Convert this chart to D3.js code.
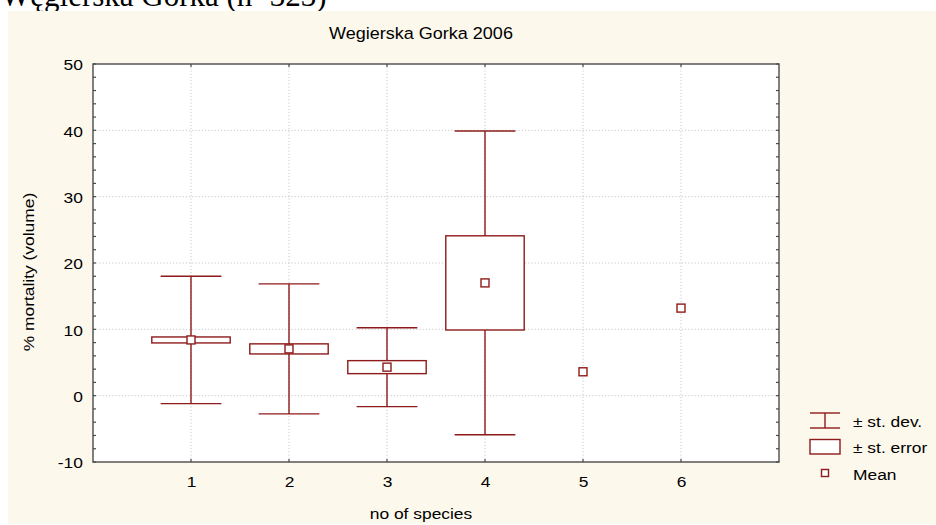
<!DOCTYPE html>
<html>
<head>
<meta charset="utf-8">
<script src="https://cdn.jsdelivr.net/npm/d3@7"></script>
<style>
body { margin:0; background:#ffffff; }
text { font-family: Arial, "Liberation Sans", sans-serif; fill:#000; }
.grid line { stroke:#c8c8c8; stroke-width:1; stroke-dasharray:1.2,2; }
.frame { fill:none; stroke:#4a4a4a; stroke-width:1.4; }
.mark { stroke:#8e1b1b; stroke-width:1.4; fill:#ffffff; }
</style>
</head>
<body>
<svg></svg>
<script>
// values
var species = [1, 2, 3, 4, 5, 6];
var means   = [8.4, 7.05, 4.3, 17.0, 3.6, 13.2];
var stdevs  = [9.6, 9.8, 5.95, 22.9, null, null];
var sterrs  = [0.45, 0.76, 0.98, 7.1, null, null];
var yTicks  = [-10, 0, 10, 20, 30, 40, 50];
var xTicks  = [1, 2, 3, 4, 5, 6];
var legendLabels = ["\u00b1 st. dev.", "\u00b1 st. error", "Mean"];

var stretch = "scale(1.2,1)";
var plain = function(d) { return String(d) };   // hyphen minus, no decimals

var screen = {width:936, height:525};
var plot = {left:93, right:779, top:64, bottom:462};

var svg = d3.select("svg")
	.attr("width", screen.width)
	.attr("height", screen.height);

//----------background-------------
var drawBackground = function()
{
	// page heading above the chart, cut by the top edge as in the source
	svg.append("text")
		.text("W\u0119gierska G\u00f3rka (n=323)")
		.attr("x", 1)
		.attr("y", 6)
		.style("font-family", "'Liberation Serif', 'Times New Roman', serif")
		.style("font-size", "31px")

	svg.append("rect")
		.attr("x", 8)
		.attr("y", 11)
		.attr("width", screen.width - 8)
		.attr("height", 513)
		.attr("fill", "#fdf8ec")

	svg.append("rect")
		.attr("x", plot.left)
		.attr("y", plot.top)
		.attr("width", plot.right - plot.left)
		.attr("height", plot.bottom - plot.top)
		.attr("fill", "#ffffff")
}

//----------axes + grid-------------
var drawAxis = function(xScale, yScale)
{
	var grid = svg.append("g").classed("grid", true)
	grid.selectAll(".gx")
		.data(xTicks)
		.enter()
		.append("line")
		.attr("x1", function(d) { return xScale(d) })
		.attr("x2", function(d) { return xScale(d) })
		.attr("y1", plot.top)
		.attr("y2", plot.bottom)
	grid.selectAll(".gy")
		.data(yTicks.slice(1, -1))
		.enter()
		.append("line")
		.attr("x1", plot.left)
		.attr("x2", plot.right)
		.attr("y1", function(d) { return yScale(d) })
		.attr("y2", function(d) { return yScale(d) })

	var minor = d3.range(-10, 50.1, 2)

	// left axis with labels
	var yAxis = d3.axisLeft(yScale).tickValues(yTicks).tickFormat(plain).tickSize(0).tickPadding(8)
	var gy = svg.append("g")
		.attr("transform", "translate(" + plot.left + ",0)")
		.call(yAxis)
	gy.select(".domain").remove()
	gy.selectAll("text")
		.style("font-size", "14.5px")
		.attr("x", -8.5)
		.attr("dy", "0.4em")
		.attr("transform", stretch)

	// bottom axis with labels
	var xAxis = d3.axisBottom(xScale).tickValues(xTicks).tickFormat(plain).tickSize(0)
	var gx = svg.append("g")
		.attr("transform", "translate(0," + plot.bottom + ")")
		.call(xAxis)
	gx.select(".domain").remove()
	gx.selectAll("text")
		.style("font-size", "14.5px")
		.attr("y", 25)
		.attr("dy", 0)
		.attr("transform", stretch)

	// inward ticks on all four sides
	var ticks = svg.append("g").attr("stroke", "#4a4a4a").attr("stroke-width", 1.2)
	ticks.selectAll(".tl")
		.data(minor)
		.enter()
		.append("line")
		.attr("x1", plot.left)
		.attr("x2", plot.left + 3)
		.attr("y1", function(d) { return yScale(d) })
		.attr("y2", function(d) { return yScale(d) })
	ticks.selectAll(".tr")
		.data(minor)
		.enter()
		.append("line")
		.attr("x1", plot.right)
		.attr("x2", plot.right - 3)
		.attr("y1", function(d) { return yScale(d) })
		.attr("y2", function(d) { return yScale(d) })
	ticks.selectAll(".tb")
		.data(xTicks)
		.enter()
		.append("line")
		.attr("x1", function(d) { return xScale(d) })
		.attr("x2", function(d) { return xScale(d) })
		.attr("y1", plot.bottom)
		.attr("y2", plot.bottom - 3)
	ticks.selectAll(".tt")
		.data(xTicks)
		.enter()
		.append("line")
		.attr("x1", function(d) { return xScale(d) })
		.attr("x2", function(d) { return xScale(d) })
		.attr("y1", plot.top)
		.attr("y2", plot.top + 3)

	svg.append("rect")
		.classed("frame", true)
		.attr("x", plot.left)
		.attr("y", plot.top)
		.attr("width", plot.right - plot.left)
		.attr("height", plot.bottom - plot.top)
}

//----------boxes-------------
var drawPlot = function(xScale, yScale)
{
	var rows = species.map(function(s, i)
	{
		return {x:s, mean:means[i], sd:stdevs[i], se:sterrs[i]}
	})
	var full = rows.filter(function(r) { return r.sd != null })
	var capW = 0.31, boxW = 0.4

	var g = svg.append("g").classed("mark", true)

	g.selectAll(".whisk")
		.data(full)
		.enter()
		.append("line")
		.attr("x1", function(r) { return xScale(r.x) })
		.attr("x2", function(r) { return xScale(r.x) })
		.attr("y1", function(r) { return yScale(r.mean - r.sd) })
		.attr("y2", function(r) { return yScale(r.mean + r.sd) })

	g.selectAll(".capHi")
		.data(full)
		.enter()
		.append("line")
		.attr("x1", function(r) { return xScale(r.x - capW) })
		.attr("x2", function(r) { return xScale(r.x + capW) })
		.attr("y1", function(r) { return yScale(r.mean + r.sd) })
		.attr("y2", function(r) { return yScale(r.mean + r.sd) })

	g.selectAll(".capLo")
		.data(full)
		.enter()
		.append("line")
		.attr("x1", function(r) { return xScale(r.x - capW) })
		.attr("x2", function(r) { return xScale(r.x + capW) })
		.attr("y1", function(r) { return yScale(r.mean - r.sd) })
		.attr("y2", function(r) { return yScale(r.mean - r.sd) })

	g.selectAll(".box")
		.data(full)
		.enter()
		.append("rect")
		.attr("x", function(r) { return xScale(r.x - boxW) })
		.attr("width", function(r) { return xScale(r.x + boxW) - xScale(r.x - boxW) })
		.attr("y", function(r) { return yScale(r.mean + r.se) })
		.attr("height", function(r) { return yScale(r.mean - r.se) - yScale(r.mean + r.se) })

	g.selectAll(".meanPt")
		.data(rows)
		.enter()
		.append("rect")
		.attr("x", function(r) { return xScale(r.x) - 4 })
		.attr("y", function(r) { return yScale(r.mean) - 4 })
		.attr("width", 8)
		.attr("height", 8)
}

//----------labels + legend-------------
var drawLabels = function()
{
	svg.append("text")
		.text("Wegierska Gorka 2006")
		.attr("text-anchor", "middle")
		.attr("transform", "translate(421,39) scale(1.06,1)")
		.style("font-size", "17px")

	svg.append("text")
		.text("no of species")
		.attr("text-anchor", "middle")
		.attr("transform", "translate(421,519) " + stretch)
		.style("font-size", "14.5px")

	svg.append("text")
		.text("% mortality (volume)")
		.attr("text-anchor", "middle")
		.attr("transform", "translate(34,272) rotate(-90) " + stretch)
		.style("font-size", "14.5px")

	var lg = svg.append("g")
	var sym = lg.append("g").classed("mark", true)
	sym.append("line").attr("x1", 810).attr("x2", 840).attr("y1", 413).attr("y2", 413)
	sym.append("line").attr("x1", 810).attr("x2", 840).attr("y1", 428).attr("y2", 428)
	sym.append("line").attr("x1", 825).attr("x2", 825).attr("y1", 413).attr("y2", 428)
	sym.append("rect").attr("x", 810).attr("y", 439.5).attr("width", 30).attr("height", 14.5)
	sym.append("rect").attr("x", 821.5).attr("y", 469.5).attr("width", 7).attr("height", 7)

	lg.selectAll(".lt")
		.data(legendLabels)
		.enter()
		.append("text")
		.text(function(d) { return d })
		.style("font-size", "14.5px")
		.attr("transform", function(d, i) { return "translate(853," + (426.5 + i * 26.7) + ") " + stretch })
}

var initgraph = function()
{
	var xScale = d3.scaleLinear()
		.domain([0, 7])
		.range([plot.left, plot.right])
	var yScale = d3.scaleLinear()
		.domain([-10, 50])
		.range([plot.bottom, plot.top])
	drawBackground()
	drawAxis(xScale, yScale)
	drawPlot(xScale, yScale)
	drawLabels()
}
initgraph()
</script>
</body>
</html>
